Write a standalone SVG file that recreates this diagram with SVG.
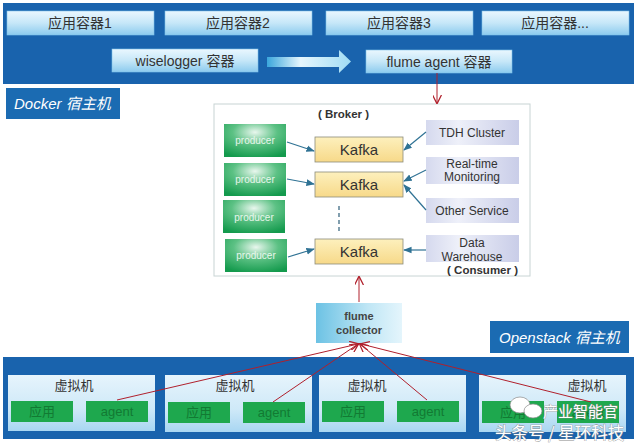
<svg xmlns="http://www.w3.org/2000/svg" width="639" height="444" viewBox="0 0 639 444">
<defs>
<linearGradient id="gBox" x1="0" y1="0" x2="0" y2="1"><stop offset="0" stop-color="#eaf7fe"/><stop offset="0.5" stop-color="#c6e7f8"/><stop offset="1" stop-color="#8ccbee"/></linearGradient>
<linearGradient id="gVm" x1="0" y1="0" x2="0" y2="1"><stop offset="0" stop-color="#e6f4fc"/><stop offset="0.6" stop-color="#cfe9f8"/><stop offset="1" stop-color="#a8d6f2"/></linearGradient>
<linearGradient id="gArrow" x1="0" y1="0" x2="1" y2="0"><stop offset="0" stop-color="#3aa6dc"/><stop offset="0.4" stop-color="#e6f6fd"/><stop offset="1" stop-color="#9fdcf4"/></linearGradient>
<radialGradient id="gProd" cx="0.5" cy="0.25" r="0.8"><stop offset="0" stop-color="#e9f7ee"/><stop offset="0.45" stop-color="#5cc184"/><stop offset="1" stop-color="#149a4d"/></radialGradient>
<linearGradient id="gKafka" x1="0" y1="0" x2="0" y2="1"><stop offset="0" stop-color="#fdf0bd"/><stop offset="1" stop-color="#f7d989"/></linearGradient>
<linearGradient id="gCons" x1="0" y1="0" x2="1" y2="0"><stop offset="0" stop-color="#d5d9ee"/><stop offset="0.35" stop-color="#eef0f9"/><stop offset="1" stop-color="#c9cde8"/></linearGradient>
<linearGradient id="gColl" x1="0" y1="0" x2="1" y2="0"><stop offset="0" stop-color="#6cc2e4"/><stop offset="0.6" stop-color="#bfe6f5"/><stop offset="1" stop-color="#e4f5fc"/></linearGradient>
<marker id="mBlue" viewBox="0 0 10 10" refX="9" refY="5" markerWidth="7" markerHeight="7" orient="auto-start-reverse"><path d="M0,1 L10,5 L0,9 z" fill="#2f7294"/></marker>
<marker id="mRed" viewBox="0 0 10 10" refX="9" refY="5" markerWidth="9" markerHeight="9" orient="auto-start-reverse"><path d="M0,0 L10,5 L0,10" fill="none" stroke="#b0202c" stroke-width="1.4"/></marker>
</defs>
<style>
.band{fill:#1963ad}
.cbox{fill:url(#gBox);stroke:#7fc2ea;stroke-width:0.6}
.t14{font-family:"Liberation Sans","Noto Sans CJK SC",sans-serif;font-size:14px;fill:#333;text-anchor:middle}
.lbl{fill:#1b6bb2}
.lt{font-family:"Liberation Sans","Noto Sans CJK SC",sans-serif;font-size:15px;font-style:italic;fill:#fff}
.prod{fill:url(#gProd)}
.pt{font-family:"Liberation Sans",sans-serif;font-size:10px;fill:#e8f6ec;text-anchor:middle}
.kafka{fill:url(#gKafka);stroke:#8c8c7a;stroke-width:0.8}
.kt{font-family:"Liberation Sans",sans-serif;font-size:15px;fill:#333;text-anchor:middle}
.cons{fill:url(#gCons)}
.ct{font-family:"Liberation Sans",sans-serif;font-size:12px;fill:#333;text-anchor:middle}
.bt{font-family:"Liberation Sans",sans-serif;font-size:11.5px;font-weight:bold;fill:#333}
.vm{fill:url(#gVm)}
.green{fill:#1ea84e}
.gt{font-family:"Liberation Sans","Noto Sans CJK SC",sans-serif;font-size:13px;fill:#127a33;text-anchor:middle}
.vt{font-family:"Noto Sans CJK SC",sans-serif;font-size:13px;fill:#333;text-anchor:middle}
.blue{stroke:#2f7294;stroke-width:1.2;fill:none;marker-end:url(#mBlue)}
.red{stroke:#b0202c;stroke-width:1;fill:none;marker-end:url(#mRed)}
.wm{font-family:"Noto Sans CJK SC",sans-serif;fill:#fff;stroke:#8a8a8a;stroke-width:0.7;paint-order:stroke}
</style>

<g id="docker-host">
<rect class="band" x="3" y="3" width="631" height="81"/>
</g>
<g id="app1"><rect class="cbox" x="7" y="11" width="147" height="24"/><text class="t14" x="80" y="28">应用容器1</text></g>
<g id="app2"><rect class="cbox" x="165" y="11" width="147" height="24"/><text class="t14" x="238" y="28">应用容器2</text></g>
<g id="app3"><rect class="cbox" x="326" y="11" width="147" height="24"/><text class="t14" x="399" y="28">应用容器3</text></g>
<g id="app4"><rect class="cbox" x="482" y="11" width="147" height="24"/><text class="t14" x="555" y="28">应用容器...</text></g>
<g id="wiselogger"><rect class="cbox" x="112" y="49" width="146" height="23"/><text class="t14" x="185" y="66">wiselogger 容器</text></g>
<g id="flume-agent"><rect class="cbox" x="366" y="50" width="146" height="23"/><text class="t14" x="439" y="67">flume agent 容器</text></g>
<g id="docker-label"><rect class="lbl" x="6" y="88" width="114" height="31"/><text class="lt" x="14" y="109">Docker 宿主机</text></g>

<g id="broker">
<rect x="214" y="104" width="316" height="172" fill="#fff" stroke="#c8d4d4" stroke-width="1"/>
<text class="bt" x="318" y="118" xml:space="preserve">( Broker )</text>
<text class="bt" x="518" y="274" text-anchor="end" xml:space="preserve">( Consumer )</text>
</g>
<g id="producer1"><rect class="prod" x="224" y="124" width="62" height="33"/><text class="pt" x="255" y="144">producer</text></g>
<g id="producer2"><rect class="prod" x="224" y="163" width="62" height="33"/><text class="pt" x="255" y="183">producer</text></g>
<g id="producer3"><rect class="prod" x="223" y="200" width="62" height="33"/><text class="pt" x="254" y="221">producer</text></g>
<g id="producer4"><rect class="prod" x="225" y="239" width="62" height="33"/><text class="pt" x="256" y="259">producer</text></g>
<g id="kafka1"><rect class="kafka" x="315" y="137" width="88" height="25"/><text class="kt" x="359" y="155">Kafka</text></g>
<g id="kafka2"><rect class="kafka" x="315" y="172" width="88" height="25"/><text class="kt" x="359" y="190">Kafka</text></g>
<g id="kafka3"><rect class="kafka" x="315" y="239" width="88" height="25"/><text class="kt" x="359" y="257">Kafka</text></g>
<g id="tdh"><rect class="cons" x="426" y="120" width="93" height="25"/><text class="ct" x="472" y="137">TDH Cluster</text></g>
<g id="realtime"><rect class="cons" x="426" y="157" width="93" height="27"/><text class="ct" x="472" y="168">Real-time</text><text class="ct" x="472" y="181">Monitoring</text></g>
<g id="other"><rect class="cons" x="426" y="198" width="93" height="25"/><text class="ct" x="472" y="215">Other Service</text></g>
<g id="dw"><rect class="cons" x="426" y="235" width="93" height="27"/><text class="ct" x="472" y="247">Data</text><text class="ct" x="472" y="261">Warehouse</text></g>

<g id="collector"><rect x="316" y="303" width="86" height="40" fill="url(#gColl)"/><text x="359" y="320" font-family="Liberation Sans,sans-serif" font-size="11" font-weight="bold" fill="#444" text-anchor="middle">flume</text><text x="359" y="334" font-family="Liberation Sans,sans-serif" font-size="11" font-weight="bold" fill="#444" text-anchor="middle">collector</text></g>
<g id="openstack-label"><rect class="lbl" x="490" y="321" width="139" height="32"/><text class="lt" x="499" y="343">Openstack 宿主机</text></g>

<g id="openstack-host"><rect class="band" x="3" y="357" width="631" height="82"/></g>
<g id="vm1"><rect class="vm" x="8" y="375" width="147" height="56"/><text class="vt" x="74" y="390">虚拟机</text>
<rect class="green" x="11" y="401" width="62" height="21"/><text class="gt" x="42" y="416">应用</text>
<rect class="green" x="86" y="401" width="62" height="21"/><text class="gt" x="117" y="416">agent</text></g>
<g id="vm2"><rect class="vm" x="165" y="375" width="147" height="57"/><text class="vt" x="235" y="390">虚拟机</text>
<rect class="green" x="168" y="402" width="62" height="21"/><text class="gt" x="199" y="417">应用</text>
<rect class="green" x="243" y="402" width="62" height="21"/><text class="gt" x="274" y="417">agent</text></g>
<g id="vm3"><rect class="vm" x="319" y="375" width="147" height="57"/><text class="vt" x="367" y="390">虚拟机</text>
<rect class="green" x="322" y="401" width="62" height="21"/><text class="gt" x="353" y="416">应用</text>
<rect class="green" x="397" y="401" width="62" height="21"/><text class="gt" x="428" y="416">agent</text></g>
<g id="vm4"><rect class="vm" x="479" y="375" width="147" height="57"/><text class="vt" x="587" y="390">虚拟机</text>
<rect class="green" x="482" y="401" width="62" height="22"/><text class="gt" x="513" y="417">应用</text>
<rect class="green" x="557" y="401" width="62" height="22"/><text class="gt" x="588" y="417">agent</text></g>

<g id="connectors">
<path d="M267,57 L339,57 L339,50 L351,61.5 L339,73 L339,67 L267,67 z" fill="url(#gArrow)"/>
<line class="red" x1="437" y1="73" x2="437" y2="103"/>
<line class="red" x1="359" y1="302" x2="359" y2="277"/>
<line class="blue" x1="287" y1="142" x2="314" y2="151"/>
<line class="blue" x1="287" y1="179" x2="314" y2="184"/>
<line class="blue" x1="288" y1="257" x2="314" y2="249"/>
<line class="blue" x1="426" y1="132" x2="404" y2="150"/>
<line class="blue" x1="426" y1="170" x2="404" y2="181"/>
<line class="blue" x1="426" y1="210" x2="404" y2="185"/>
<line class="blue" x1="426" y1="250" x2="404" y2="250"/>
<line x1="339" y1="206" x2="339" y2="232" stroke="#2f5f7a" stroke-width="1.2" stroke-dasharray="4,3"/>
<line class="red" x1="117" y1="400" x2="358" y2="344"/>
<line class="red" x1="273" y1="402" x2="358" y2="344"/>
<line class="red" x1="427" y1="400" x2="360" y2="344"/>
<line class="red" x1="591" y1="402" x2="361" y2="344"/>
</g>

<g id="watermark">
<ellipse cx="520" cy="405" rx="10" ry="8" fill="#fff" stroke="#8a8a8a" stroke-width="0.7"/>
<ellipse cx="533" cy="411" rx="9" ry="7" fill="#fff" stroke="#8a8a8a" stroke-width="0.7"/>
<text class="wm" x="543" y="417" font-size="15">产业智能官</text>
<text class="wm" x="495" y="439" font-size="16.5">头条号 / 星环科技</text>
</g>
</svg>
